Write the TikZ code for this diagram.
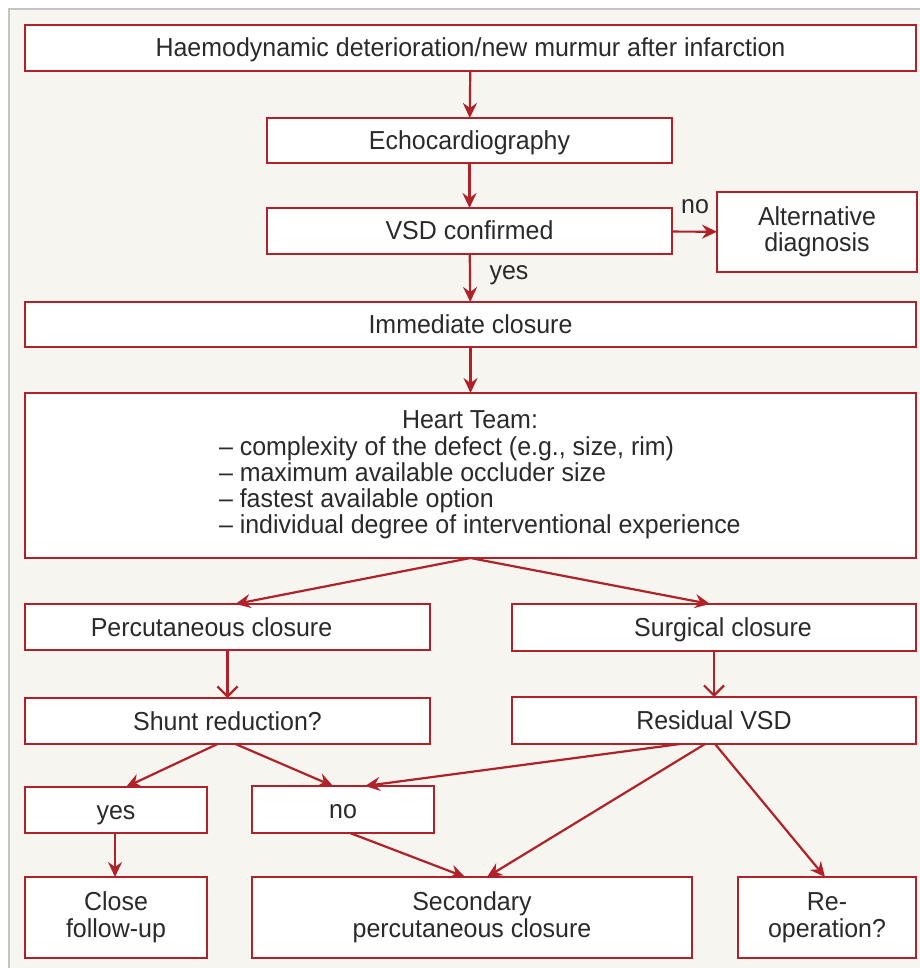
\documentclass[tikz,border=0pt]{standalone}
\usepackage{fontspec}
\setmainfont[FakeStretch=0.96]{Liberation Sans}
\usetikzlibrary{arrows.meta}

\definecolor{vsdred}{HTML}{B0222A}
\definecolor{panel}{HTML}{F6F5EF}
\definecolor{framegray}{HTML}{C4C4C4}
\definecolor{ink}{HTML}{2A2A2A}

\tikzset{
  box/.style={draw=vsdred, fill=white, line width=1.8pt, inner sep=0pt, outer sep=0pt, align=center, text=ink},
  oneline/.style={text height=18pt, text depth=0pt},
  flow/.style={draw=vsdred, line width=2.2pt, -{Stealth[length=15pt,width=14pt,inset=5pt]}},
  openflow/.style={draw=vsdred, line width=2.2pt, -{Straight Barb[length=10pt,width=20pt]}},
  lbl/.style={text=ink, inner sep=0pt, outer sep=0pt}
}

\begin{document}
\begin{tikzpicture}[x=1pt, y=-1pt, font=\fontsize{26}{26.5}\selectfont]
\useasboundingbox (0,0) rectangle (919,968);
\fill[white] (0,0) rectangle (919,968);
\draw[framegray, fill=panel, line width=1.5pt] (9,9) rectangle (925,975);

% boxes
\node[box, oneline, minimum width=891pt, minimum height=46pt] (onset) at (470.5,48) {Haemodynamic deterioration/new murmur after infarction};
\node[box, oneline, minimum width=405pt, minimum height=45pt] (echo) at (469.5,140.5) {Echocardiography};
\node[box, oneline, minimum width=405pt, minimum height=46pt] (vsd) at (469.5,231) {VSD confirmed};
\node[box, minimum width=200pt, minimum height=80pt] (alt) at (817,232) {Alternative\\diagnosis};
\node[box, oneline, minimum width=891pt, minimum height=45pt] (closure) at (470.5,324.5) {Immediate closure};
\node[box, minimum width=891pt, minimum height=165pt] (team) at (470.5,475.5) {};
\node[box, oneline, minimum width=405pt, minimum height=46pt] (perc) at (227.5,627) {\hspace{-32pt}Percutaneous closure};
\node[box, oneline, minimum width=404pt, minimum height=47pt] (surg) at (714,627.5) {\hspace{18pt}Surgical closure};
\node[box, oneline, minimum width=405pt, minimum height=46pt] (shunt) at (227.5,721) {Shunt reduction?};
\node[box, oneline, minimum width=404pt, minimum height=47pt] (resid) at (714,720.5) {Residual VSD};
\node[box, oneline, minimum width=182pt, minimum height=46pt] (yesbox) at (116,810) {yes};
\node[box, oneline, minimum width=182pt, minimum height=47pt] (nobox) at (343,809.5) {no};
\node[box, minimum width=182pt, minimum height=81pt] (follow) at (116,917.5) {Close\\follow-up};
\node[box, minimum width=440pt, minimum height=81pt] (second) at (472,917.5) {Secondary\\percutaneous closure};
\node[box, minimum width=178pt, minimum height=81pt] (reop) at (827,917.5) {Re-\\operation?};

% heart team text
\node[lbl, anchor=base] (teamhead) at (470,428) {Heart Team:};
\node[lbl, anchor=base west] (item1) at (219,455) {– complexity of the defect (e.g., size, rim)};
\node[lbl, anchor=base west] (item2) at (219,481) {– maximum available occluder size};
\node[lbl, anchor=base west] (item3) at (219,507) {– fastest available option};
\node[lbl, anchor=base west] (item4) at (219,533) {– individual degree of interventional experience};

% labels
\node[lbl] (nolbl) at (695,207) {no};
\node[lbl] (yeslbl) at (509,275) {yes};

% connectors
\draw[flow] (onset) -- (echo);
\draw[flow] (echo) -- (vsd);
\draw[flow] (vsd) -- (alt);
\draw[flow] (vsd) -- (closure);
\draw[flow] (closure) -- (team);
\draw[flow] (team.south) -- ([xshift=8pt]perc.north);
\draw[flow] (team.south) -- ([xshift=-4pt]surg.north);
\draw[openflow] (perc) -- (shunt);
\draw[openflow] (surg) -- (resid);
\draw[flow] ([xshift=-10pt]shunt.south) -- ([xshift=10pt]yesbox.north);
\draw[flow] ([xshift=8pt]shunt.south) -- ([xshift=-10pt]nobox.north);
\draw[flow] ([xshift=-34pt]resid.south) -- ([xshift=22pt]nobox.north);
\draw[flow] ([xshift=-9pt]resid.south) -- ([xshift=15pt]second.north);
\draw[flow] ([xshift=1pt]resid.south) -- ([xshift=-2pt]reop.north);
\draw[flow] ([xshift=-1pt]yesbox.south) -- ([xshift=-1pt]follow.north);
\draw[flow] ([xshift=7pt]nobox.south) -- ([xshift=-7pt]second.north);
\end{tikzpicture}
\end{document}
